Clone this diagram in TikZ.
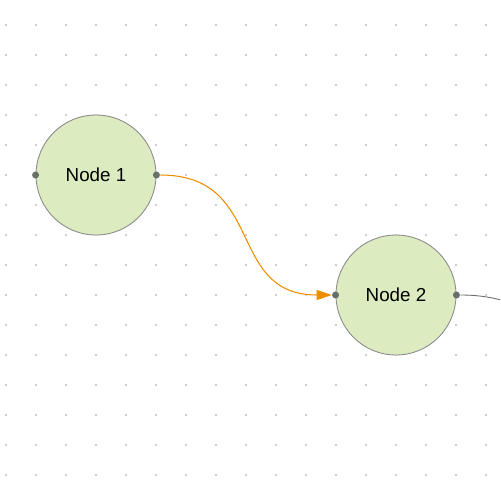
\documentclass[tikz,border=0pt]{standalone}
\usepackage{fontspec}
\setmainfont{Liberation Sans}
\usepackage{xcolor}
\usetikzlibrary{arrows.meta}
\usetikzlibrary{positioning}

\definecolor{nodefill}{RGB}{220,235,192}
\definecolor{nodeline}{RGB}{140,140,140}
\definecolor{portfill}{RGB}{105,112,105}
\definecolor{griddot}{RGB}{190,190,190}
\definecolor{edgeorange}{RGB}{240,140,0}
\definecolor{edgegrey}{RGB}{110,110,110}

\begin{document}
\begin{tikzpicture}[x=0.02cm,y=-0.02cm]
      \tikzstyle{gnode}=[circle,draw=nodeline,fill=nodefill,line width=0.5pt,minimum size=2.4cm,inner sep=0pt,font=\fontsize{10.7}{12}\selectfont]
      \tikzstyle{gport}=[circle,fill=portfill,minimum size=0.14cm,inner sep=0pt]
      \tikzstyle{gedge}=[draw=edgeorange,line width=0.6pt,-{Triangle[length=0.3cm,width=0.2cm]}]

      \useasboundingbox (0,0) rectangle (500,500);
      \clip (0,0) rectangle (500,500);

      % background dots
      \foreach \i in {0,...,16}
        \foreach \j in {0,...,15}
          \fill [griddot] (6+30*\i,25+30*\j) circle (0.024cm);

      \node [gnode] (n1) at (96,175) {Node 1};
      \node [gnode] (n2) at (396,295) {Node 2};

      \node [gport] (n1l) at (n1.west) {};
      \node [gport] (n1r) at (n1.east) {};
      \node [gport] (n2l) at (n2.west) {};
      \node [gport] (n2r) at (n2.east) {};

      \coordinate (away) at (640,350);

      \draw [gedge] (n1r) .. controls +(110,0) and +(-110,0) .. (n2l);
      \draw [edgegrey,line width=0.5pt] (n2r) .. controls +(90,0) and +(-90,0) .. (away);
\end{tikzpicture}
\end{document}
